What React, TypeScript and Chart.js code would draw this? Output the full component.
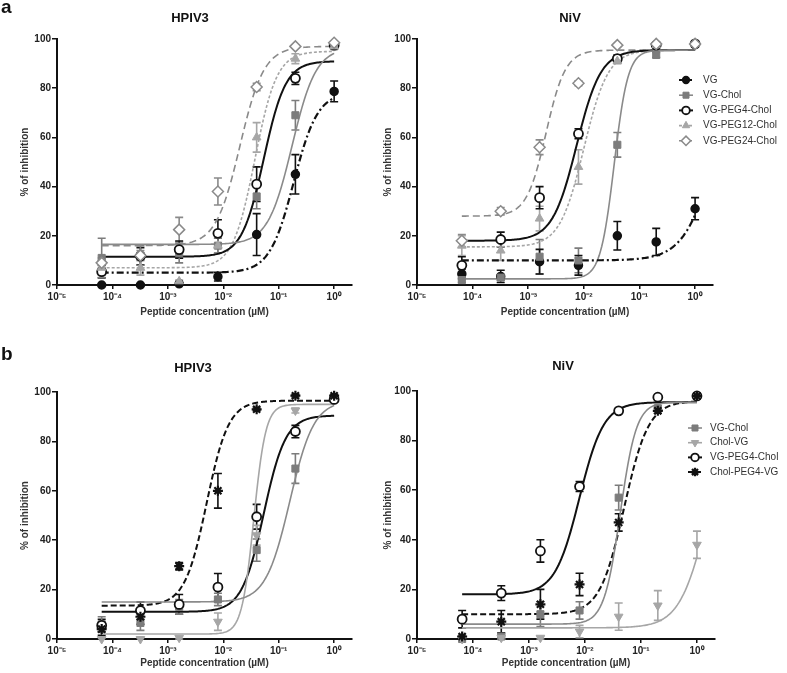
import React, { useEffect, useRef } from 'react';
import { Chart, registerables } from 'chart.js';
import { drawPoint } from 'chart.js/helpers';

Chart.register(...registerables);

const FONT = "'Liberation Sans', Arial, sans-serif";

// ---------- shared axis data ----------
const concentrations = [6.4e-5, 3.2e-4, 1.6e-3, 8e-3, 0.04, 0.2, 1];
const xTickValues = [1e-5, 1e-4, 1e-3, 1e-2, 1e-1, 1];
const xTickLabels = ['10⁻⁵', '10⁻⁴', '10⁻³', '10⁻²', '10⁻¹', '10⁰'];
const yTickStep = 20;
const xAxisTitle = 'Peptide concentration (µM)';
const yAxisTitle = '% of inhibition';

const seriesNamesA = ['VG', 'VG-Chol', 'VG-PEG4-Chol', 'VG-PEG12-Chol', 'VG-PEG24-Chol'];
const seriesNamesB = ['VG-Chol', 'Chol-VG', 'VG-PEG4-Chol', 'Chol-PEG4-VG'];

// ---------- panel a, HPIV3 (mean, SEM) ----------
const aHpivVG = [0, 0, 0.5, 3.4, 20.5, 45, 78.7];
const aHpivVGErr = [0, 0, 0.5, 1.8, 8.5, 8, 4.2];
const aHpivVGChol = [11, 12, 13, 16, 36, 69, 97];
const aHpivVGCholErr = [8, 4, 4, 3, 5, 6, 1];
const aHpivPEG4 = [5.4, 11.7, 14.4, 21, 41, 84, 97.5];
const aHpivPEG4Err = [2.5, 3.5, 3.5, 5.5, 7, 2.5, 1];
const aHpivPEG12 = [7, 7, 1.5, 16, 60, 92, 97];
const aHpivPEG12Err = [3, 3, 0.5, 3, 6, 2, 1];
const aHpivPEG24 = [9, 12, 22.5, 38, 80.5, 97, 98.5];
const aHpivPEG24Err = [2, 2, 5, 5.5, 1.5, 0.5, 0.5];
// fits: [bottom, top, logEC50, hill]
const aHpivFitVG = [5, 78.5, -0.73, 2];
const aHpivFitVGChol = [16.5, 96.5, -0.76, 2];
const aHpivFitPEG4 = [11.5, 91, -1.27, 2.2];
const aHpivFitPEG12 = [7, 95, -1.43, 2.2];
const aHpivFitPEG24 = [16, 97, -1.7, 2];

// ---------- panel a, NiV ----------
const aNivVG = [4.5, 3.5, 9.5, 8, 20, 17.5, 31];
const aNivVGErr = [2, 2.5, 5, 4, 5.8, 5.5, 4.5];
const aNivVGChol = [2, 3, 11.5, 10, 57, 93.5, 98];
const aNivVGCholErr = [1, 1, 7, 5, 5, 1, 0.5];
const aNivPEG4 = [8, 18.5, 35.5, 61.5, 92, 97.5, 98];
const aNivPEG4Err = [3.5, 3, 4.5, 2, 1.5, 0.5, 0.5];
const aNivPEG12 = [16, 14, 27, 48, 91, 97.5, 98];
const aNivPEG12Err = [4, 4, 5, 7, 1, 0.5, 0.5];
const aNivPEG24 = [18, 30, 56, 82, 97.5, 98, 98];
const aNivPEG24Err = [2.5, 1.5, 3, 1, 0.5, 0.5, 0.5];
const aNivFitVG = [10, 96, 0.37, 1.52];
const aNivFitVGChol = [2.5, 95.5, -1.455, 3.5];
const aNivFitPEG4 = [18, 95.5, -2.13, 2];
const aNivFitPEG12 = [15.5, 95.5, -2.0, 2];
const aNivFitPEG24 = [28, 95.5, -2.68, 2.5];

// ---------- panel b, HPIV3 ----------
const bHpivVGChol = [6, 6.5, 13, 16, 36, 69, 97];
const bHpivVGCholErr = [3, 3, 3, 2.5, 4.5, 6, 1];
const bHpivCholVG = [0, 0, 0.5, 7, 42, 92.5, 97];
const bHpivCholVGErr = [0.5, 0.5, 0.5, 3.5, 4, 1, 0.5];
const bHpivPEG4 = [5.5, 11.5, 14, 21, 49.5, 84, 97];
const bHpivPEG4Err = [2.5, 3.5, 4, 5.5, 5, 2.5, 0.5];
const bHpivCholPEG4 = [4, 9, 29.5, 60, 93, 98.5, 98.5];
const bHpivCholPEG4Err = [2.5, 3, 1.5, 7, 0.5, 0.5, 0.5];
const bHpivFitVGChol = [15, 96.5, -0.8, 2];
const bHpivFitCholVG = [2, 95, -1.45, 4];
const bHpivFitPEG4 = [11, 90.5, -1.27, 2.2];
const bHpivFitCholPEG4 = [13.5, 96.5, -2.3, 2.2];

// ---------- panel b, NiV ----------
const bNivVGChol = [0, 1, 10, 11.5, 57, 93, 98];
const bNivVGCholErr = [0.5, 1, 5, 3.5, 5, 1, 0.5];
const bNivCholVG = [0, 0.5, 0.5, 3, 9, 13.5, 38];
const bNivCholVGErr = [0.5, 0.5, 0.5, 2.5, 5.5, 6, 5.5];
const bNivPEG4 = [8, 18.5, 35.5, 61.5, 92, 97.5, 98];
const bNivPEG4Err = [3.5, 3, 4.5, 2, 0.5, 0.5, 0.5];
const bNivCholPEG4 = [1, 7, 14, 22, 47, 92, 98];
const bNivCholPEG4Err = [0.5, 4.5, 6, 4.5, 3.5, 1, 0.5];
const bNivFitVGChol = [6, 95.5, -1.37, 3];
const bNivFitCholVG = [4.5, 95.5, 0.197, 1.73];
const bNivFitPEG4 = [18, 95.5, -2.1, 2];
const bNivFitCholPEG4 = [10, 96, -1.3, 2];

// ---------- styles ----------
type Style = {
  marker: string; fill: string; line: string; pointStyle: any; radius: number;
  rotation?: number; markerBorder: number; dash: number[]; lineWidth: number;
};
const seriesStyles: Record<string, Style> = {
  'VG': { marker: '#111', fill: '#111', line: '#111', pointStyle: 'circle', radius: 4, markerBorder: 1.5, dash: [7, 3, 2, 3], lineWidth: 2.2 },
  'VG-Chol': { marker: '#7c7c7c', fill: '#7c7c7c', line: '#8a8a8a', pointStyle: 'rect', radius: 5, markerBorder: 1, dash: [], lineWidth: 1.6 },
  'VG-PEG4-Chol': { marker: '#111', fill: '#fff', line: '#111', pointStyle: 'circle', radius: 4.5, markerBorder: 1.8, dash: [], lineWidth: 2 },
  'VG-PEG12-Chol': { marker: '#a6a6a6', fill: '#a6a6a6', line: '#a6a6a6', pointStyle: 'triangle', radius: 5, markerBorder: 1, dash: [3, 2], lineWidth: 1.6 },
  'VG-PEG24-Chol': { marker: '#8a8a8a', fill: '#fff', line: '#8a8a8a', pointStyle: 'rectRot', radius: 5.5, markerBorder: 1.5, dash: [7, 4], lineWidth: 1.6 },
  'Chol-VG': { marker: '#a6a6a6', fill: '#a6a6a6', line: '#a6a6a6', pointStyle: 'triangle', rotation: 180, radius: 5, markerBorder: 1, dash: [], lineWidth: 1.6 },
  'Chol-PEG4-VG': { marker: '#111', fill: '#111', line: '#111', pointStyle: 'star', radius: 5, markerBorder: 2.2, dash: [6, 3], lineWidth: 2 },
};

type Series = { name: string; values: number[]; errors: number[]; fit: number[] };

const panels = [
  {
    key: 'aHpiv', left: 0, top: 0, width: 385, height: 325,
    padTop: 39, padRight: 33, yWidth: 57, xHeight: 40, yTitlePad: 19, xTitlePad: 7, legend: null as any,
    series: [
      { name: 'VG', values: aHpivVG, errors: aHpivVGErr, fit: aHpivFitVG },
      { name: 'VG-Chol', values: aHpivVGChol, errors: aHpivVGCholErr, fit: aHpivFitVGChol },
      { name: 'VG-PEG4-Chol', values: aHpivPEG4, errors: aHpivPEG4Err, fit: aHpivFitPEG4 },
      { name: 'VG-PEG12-Chol', values: aHpivPEG12, errors: aHpivPEG12Err, fit: aHpivFitPEG12 },
      { name: 'VG-PEG24-Chol', values: aHpivPEG24, errors: aHpivPEG24Err, fit: aHpivFitPEG24 },
    ] as Series[],
  },
  {
    key: 'aNiv', left: 375, top: 0, width: 412, height: 325,
    padTop: 39, padRight: 74, yWidth: 42, xHeight: 40, yTitlePad: 7, xTitlePad: 7,
    legend: { x: 311, y: 80, step: 15.2, half: 7, textX: 328, names: seriesNamesA },
    series: [
      { name: 'VG', values: aNivVG, errors: aNivVGErr, fit: aNivFitVG },
      { name: 'VG-Chol', values: aNivVGChol, errors: aNivVGCholErr, fit: aNivFitVGChol },
      { name: 'VG-PEG4-Chol', values: aNivPEG4, errors: aNivPEG4Err, fit: aNivFitPEG4 },
      { name: 'VG-PEG12-Chol', values: aNivPEG12, errors: aNivPEG12Err, fit: aNivFitPEG12 },
      { name: 'VG-PEG24-Chol', values: aNivPEG24, errors: aNivPEG24Err, fit: aNivFitPEG24 },
    ] as Series[],
  },
  {
    key: 'bHpiv', left: 0, top: 350, width: 385, height: 323,
    padTop: 42, padRight: 33, yWidth: 57, xHeight: 34, yTitlePad: 19, xTitlePad: 4, legend: null as any,
    series: [
      { name: 'VG-Chol', values: bHpivVGChol, errors: bHpivVGCholErr, fit: bHpivFitVGChol },
      { name: 'Chol-VG', values: bHpivCholVG, errors: bHpivCholVGErr, fit: bHpivFitCholVG },
      { name: 'VG-PEG4-Chol', values: bHpivPEG4, errors: bHpivPEG4Err, fit: bHpivFitPEG4 },
      { name: 'Chol-PEG4-VG', values: bHpivCholPEG4, errors: bHpivCholPEG4Err, fit: bHpivFitCholPEG4 },
    ] as Series[],
  },
  {
    key: 'bNiv', left: 375, top: 350, width: 412, height: 323,
    padTop: 41, padRight: 72, yWidth: 42, xHeight: 34, yTitlePad: 7, xTitlePad: 4,
    legend: { x: 320, y: 78, step: 14.7, half: 7, textX: 335, names: seriesNamesB },
    series: [
      { name: 'VG-Chol', values: bNivVGChol, errors: bNivVGCholErr, fit: bNivFitVGChol },
      { name: 'Chol-VG', values: bNivCholVG, errors: bNivCholVGErr, fit: bNivFitCholVG },
      { name: 'VG-PEG4-Chol', values: bNivPEG4, errors: bNivPEG4Err, fit: bNivFitPEG4 },
      { name: 'Chol-PEG4-VG', values: bNivCholPEG4, errors: bNivCholPEG4Err, fit: bNivFitCholPEG4 },
    ] as Series[],
  },
];

function fitCurve(fit: number[]) {
  const [bottom, top, logEC50, hill] = fit;
  const lo = Math.log10(concentrations[0]);
  const hi = Math.log10(concentrations[concentrations.length - 1]);
  const n = 180;
  const pts: { x: number; y: number }[] = [];
  for (let i = 0; i <= n; i++) {
    const lx = lo + ((hi - lo) * i) / n;
    pts.push({ x: Math.pow(10, lx), y: bottom + (top - bottom) / (1 + Math.pow(10, (logEC50 - lx) * hill)) });
  }
  return pts;
}

const errorBarPlugin = {
  id: 'errorBars',
  beforeDatasetsDraw(chart: any) {
    const { ctx } = chart;
    const xs = chart.scales.x;
    const ys = chart.scales.y;
    chart.data.datasets.forEach((ds: any) => {
      if (!ds.errors) return;
      ctx.save();
      ctx.strokeStyle = ds.errorColor;
      ctx.lineWidth = 1.6;
      ctx.setLineDash([]);
      ds.data.forEach((p: any, j: number) => {
        const e = ds.errors[j];
        if (!e) return;
        const x = xs.getPixelForValue(p.x);
        const yTop = ys.getPixelForValue(p.y + e);
        const lowV = p.y - e;
        const yBot = ys.getPixelForValue(Math.max(lowV, 0));
        ctx.beginPath();
        ctx.moveTo(x, yTop);
        ctx.lineTo(x, yBot);
        ctx.moveTo(x - 4, yTop);
        ctx.lineTo(x + 4, yTop);
        if (lowV >= 0) {
          ctx.moveTo(x - 4, yBot);
          ctx.lineTo(x + 4, yBot);
        }
        ctx.stroke();
      });
      ctx.restore();
    });
  },
};

function makeLegendPlugin(legend: any) {
  return {
    id: 'curveLegend',
    afterDraw(chart: any) {
      if (!legend) return;
      const ctx = chart.ctx;
      legend.names.forEach((name: string, i: number) => {
        const st = seriesStyles[name];
        const cx = legend.x;
        const cy = legend.y + i * legend.step;
        ctx.save();
        ctx.strokeStyle = st.line;
        ctx.lineWidth = st.lineWidth;
        ctx.setLineDash(st.dash.length ? [3, 2] : []);
        ctx.beginPath();
        ctx.moveTo(cx - legend.half, cy);
        ctx.lineTo(cx + legend.half, cy);
        ctx.stroke();
        ctx.setLineDash([]);
        ctx.fillStyle = st.fill;
        ctx.strokeStyle = st.marker;
        ctx.lineWidth = st.markerBorder;
        drawPoint(ctx, { pointStyle: st.pointStyle, rotation: st.rotation || 0, radius: st.radius * 0.85, borderWidth: st.markerBorder } as any, cx, cy);
        ctx.fillStyle = '#333';
        ctx.font = `10px ${FONT}`;
        ctx.textBaseline = 'middle';
        ctx.textAlign = 'left';
        ctx.fillText(name, legend.textX, cy);
        ctx.restore();
      });
    },
  };
}

function buildConfig(cfg: (typeof panels)[number]): any {
  const pointSets = cfg.series.map((s) => {
    const st = seriesStyles[s.name];
    return {
      label: s.name,
      data: concentrations.map((c, i) => ({ x: c, y: s.values[i] })),
      errors: s.errors,
      errorColor: st.marker,
      showLine: false,
      pointStyle: st.pointStyle,
      pointRadius: st.radius,
      pointHoverRadius: st.radius,
      pointRotation: st.rotation || 0,
      pointBackgroundColor: st.fill,
      pointBorderColor: st.marker,
      pointBorderWidth: st.markerBorder,
      backgroundColor: st.fill,
      borderColor: st.marker,
      clip: false,
    };
  });
  // later series are painted on top (Chart.js paints index 0 last)
  pointSets.reverse();
  const curveSets = cfg.series.map((s) => {
    const st = seriesStyles[s.name];
    return {
      label: s.name + ' fit',
      data: fitCurve(s.fit),
      showLine: true,
      pointRadius: 0,
      pointHoverRadius: 0,
      borderColor: st.line,
      backgroundColor: st.line,
      borderWidth: st.lineWidth,
      borderDash: st.dash,
      tension: 0,
      fill: false,
      clip: false,
    };
  });
  const tickFont = { family: FONT, size: 10, weight: 'bold' as const };
  return {
    type: 'scatter',
    data: { datasets: [...pointSets, ...curveSets] },
    options: {
      animation: false,
      responsive: false,
      maintainAspectRatio: false,
      events: [],
      layout: { padding: { top: cfg.padTop, right: cfg.padRight, bottom: 0, left: 0 } },
      plugins: { legend: { display: false }, tooltip: { enabled: false }, title: { display: false } },
      scales: {
        x: {
          type: 'logarithmic',
          position: 'bottom',
          min: 1e-5,
          max: 2.1,
          afterBuildTicks: (scale: any) => {
            scale.ticks = xTickValues.map((v) => ({ value: v }));
          },
          afterFit: (scale: any) => {
            scale.height = cfg.xHeight;
          },
          ticks: {
            autoSkip: false,
            maxRotation: 0,
            padding: 2,
            color: '#222',
            font: tickFont,
            callback: (_v: any, i: number) => xTickLabels[i],
          },
          grid: { display: true, drawOnChartArea: false, drawTicks: true, tickLength: 4, color: '#111', lineWidth: 1.5 },
          border: { display: true, color: '#111', width: 2 },
          title: {
            display: true,
            text: xAxisTitle,
            color: '#333',
            font: tickFont,
            padding: { top: 0, bottom: cfg.xTitlePad },
          },
        },
        y: {
          type: 'linear',
          min: 0,
          max: 100,
          afterFit: (scale: any) => {
            scale.width = cfg.yWidth;
          },
          ticks: { stepSize: yTickStep, padding: 1, color: '#222', font: tickFont },
          grid: { display: true, drawOnChartArea: false, drawTicks: true, tickLength: 5, color: '#111', lineWidth: 1.5 },
          border: { display: true, color: '#111', width: 2 },
          title: {
            display: true,
            text: yAxisTitle,
            color: '#333',
            font: tickFont,
            padding: { top: cfg.yTitlePad, bottom: 0 },
          },
        },
      },
    },
    plugins: [errorBarPlugin, makeLegendPlugin(cfg.legend)],
  };
}

function Panel({ cfg }: { cfg: (typeof panels)[number] }) {
  const ref = useRef<HTMLCanvasElement>(null);
  useEffect(() => {
    if (!ref.current) return;
    const chart = new Chart(ref.current, buildConfig(cfg));
    return () => chart.destroy();
  }, [cfg]);
  return (
    <canvas
      ref={ref}
      width={cfg.width}
      height={cfg.height}
      style={{ position: 'absolute', left: cfg.left, top: cfg.top, width: cfg.width, height: cfg.height }}
    />
  );
}

const labelBase: React.CSSProperties = {
  position: 'absolute',
  fontFamily: FONT,
  fontWeight: 'bold',
  color: '#111',
  whiteSpace: 'nowrap',
};

export default function App() {
  return (
    <div style={{ position: 'fixed', left: 0, top: 0, width: 787, height: 673, background: '#fff', overflow: 'hidden' }}>
      {panels.map((p) => (
        <Panel key={p.key} cfg={p} />
      ))}
      <div style={{ ...labelBase, left: 1, top: -3, fontSize: 19, lineHeight: '19px' }}>a</div>
      <div style={{ ...labelBase, left: 1, top: 344, fontSize: 19, lineHeight: '19px' }}>b</div>
      <div style={{ ...labelBase, left: 190, top: 11, fontSize: 13, lineHeight: '13px', transform: 'translateX(-50%)' }}>HPIV3</div>
      <div style={{ ...labelBase, left: 570, top: 11, fontSize: 13, lineHeight: '13px', transform: 'translateX(-50%)' }}>NiV</div>
      <div style={{ ...labelBase, left: 193, top: 361, fontSize: 13, lineHeight: '13px', transform: 'translateX(-50%)' }}>HPIV3</div>
      <div style={{ ...labelBase, left: 563, top: 359, fontSize: 13, lineHeight: '13px', transform: 'translateX(-50%)' }}>NiV</div>
    </div>
  );
}
